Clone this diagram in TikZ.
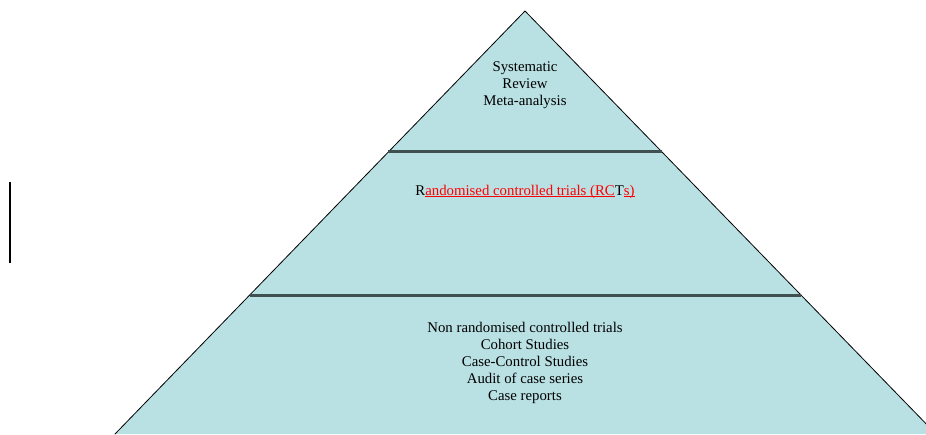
\documentclass[tikz,border=0pt]{standalone}
\usepackage{fontspec}
\setmainfont{Liberation Serif}
\usetikzlibrary{calc}
\definecolor{tierfill}{RGB}{185,224,227}
\definecolor{tierline}{RGB}{64,80,80}
\newcommand\redline[1]{\textcolor{red}{\setbox0\hbox{#1}\rlap{\raisebox{-1.8pt}{\rule{\wd0}{1pt}}}\box0}}
\begin{document}
\begin{tikzpicture}[x=1pt,y=-1pt,line join=round,line cap=round,
  font=\fontsize{14.8}{17}\selectfont]
	\useasboundingbox (0,0) rectangle (926,434);
	\clip (0,0) rectangle (926,434);
	\path
	(525,11) coordinate (apex)
	(apex) ++(-410,423) coordinate (bl)
	(apex) ++(411,423) coordinate (br)
	($(apex)!0.3333!(bl)$) coordinate (l1)
	($(apex)!0.3333!(br)$) coordinate (r1)
	($(apex)!0.6714!(bl)$) coordinate (l2)
	($(apex)!0.6714!(br)$) coordinate (r2)
	(10,182) coordinate (bartop)
	(10,263) coordinate (barbot)
	;
	\filldraw[fill=tierfill,draw=black,line width=0.8pt] (bl)--(apex)--(br);
	\foreach \a/\b in {l1/r1,l2/r2}
	\draw[tierline,line width=3pt,line cap=butt] (\a)--(\b);
	\draw[line width=1.6pt,line cap=butt] (bartop)--(barbot);
	\node[align=center] (sr) at (525,85) {Systematic\\Review\\Meta-analysis};
	\node (rct) at (525,192) {R\redline{andomised controlled trials (RC}T\redline{s)}};
	\node[align=center] (nrct) at (525,363) {Non randomised controlled trials\\Cohort Studies\\Case-Control Studies\\Audit of case series\\Case reports};
\end{tikzpicture}
\end{document}
